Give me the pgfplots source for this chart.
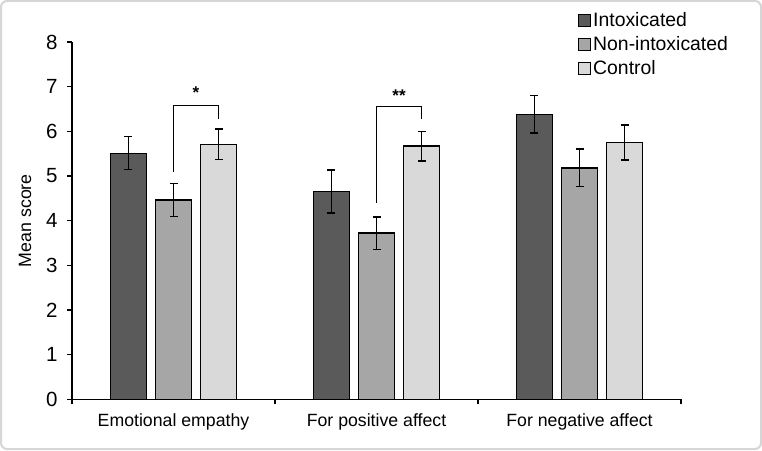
\documentclass[border=0pt]{standalone}
\usepackage{fontspec}
\setmainfont{Liberation Sans}
\usepackage{pgfplots}
\pgfplotsset{compat=1.18}
\definecolor{cI}{HTML}{5A5A5A}
\definecolor{cN}{HTML}{A6A6A6}
\definecolor{cC}{HTML}{D9D9D9}
\definecolor{frame}{HTML}{D6D6D6}
\begin{document}
\begin{tikzpicture}
\path[use as bounding box] (0pt,0pt) rectangle (762pt,450pt);
\draw[line width=2pt, frame, rounded corners=6pt] (1pt,1pt) rectangle (761pt,449pt);
\begin{axis}[
  at={(72pt,50.7pt)}, anchor=south west,
  scale only axis, width=609pt, height=357.3pt,
  xmin=-0.5, xmax=2.5, ymin=0, ymax=8,
  axis lines*=left,
  axis line style={line width=1.2pt},
  tick align=outside,
  major tick length=5pt,
  tick style={line width=1.2pt, black},
  ytick={0,1,2,3,4,5,6,7,8},
  xtick={-0.5,0.5,1.5,2.5}, xticklabels={},
  extra x ticks={0,1,2},
  extra x tick labels={Emotional empathy, For positive affect, For negative affect},
  extra x tick style={major tick length=0pt, tick style={draw=none}},
  /pgf/number format/assume math mode=true,
  yticklabel style={font=\fontsize{20.5}{24}\selectfont, xshift=-6pt},
  xticklabel style={font=\fontsize{17.7}{21}\selectfont, yshift=-11pt},
  ylabel={Mean score},
  every axis y label/.style={at={(axis description cs:0,0.5)}, xshift=-47pt, rotate=90, anchor=center, font=\fontsize{17.8}{21}\selectfont},
  ybar, bar width=0.177,
  legend style={at={(0.831,1.089)}, anchor=north west, draw=none, fill=none,
    font=\fontsize{19.4}{23}\selectfont, row sep=4.5pt, inner sep=0pt},
  legend cell align=left,
  legend image code/.code={\draw[#1, draw=black, line width=0.9pt] (0pt,-6pt) rectangle (12pt,6pt);},
  error bars/error bar style={line width=1.4pt, black},
  error bars/error mark options={rotate=90, mark size=4pt, line width=1.4pt, black},
]
\addplot[bar shift=-0.222, fill=cI, draw=black, line width=1.4pt,
  error bars/.cd, y dir=both, y explicit]
  coordinates {(0,5.51) +- (0,0.37) (1,4.65) +- (0,0.48) (2,6.38) +- (0,0.42)};
\addplot[bar shift=0, fill=cN, draw=black, line width=1.4pt,
  error bars/.cd, y dir=both, y explicit]
  coordinates {(0,4.46) +- (0,0.37) (1,3.72) +- (0,0.36) (2,5.18) +- (0,0.42)};
\addplot[bar shift=0.222, fill=cC, draw=black, line width=1.4pt,
  error bars/.cd, y dir=both, y explicit]
  coordinates {(0,5.71) +- (0,0.34) (1,5.67) +- (0,0.33) (2,5.75) +- (0,0.39)};
\legend{Intoxicated, Non-intoxicated, Control}
\draw[line width=1.3pt] (axis cs:0,5.1) -- (axis cs:0,6.58) -- (axis cs:0.222,6.58) -- (axis cs:0.222,6.28);
\draw[line width=1.3pt] (axis cs:1,4.40) -- (axis cs:1,6.56) -- (axis cs:1.222,6.56) -- (axis cs:1.222,6.27);
\node[font=\fontsize{17}{20}\selectfont\bfseries] at (axis cs:0.111,6.86) {*};
\node[font=\fontsize{17}{20}\selectfont\bfseries] at (axis cs:1.111,6.80) {**};
\end{axis}
\end{tikzpicture}
\end{document}
